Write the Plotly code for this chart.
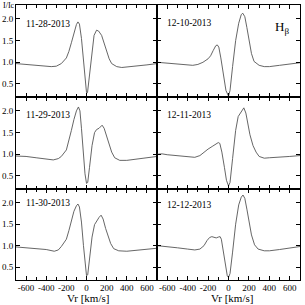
import plotly.graph_objects as go
from plotly.subplots import make_subplots

# ---- data ----
dates = ["11-28-2013", "12-10-2013", "11-29-2013", "12-11-2013", "11-30-2013", "12-12-2013"]

v_1128 = [-700, -600, -500, -400, -350, -300, -250, -200, -175, -150, -125, -100, -85, -70, -50, -30, -15, 0, 10, 25, 50, 75, 100, 120, 150, 175, 200, 225, 250, 300, 350, 400, 500, 600, 700]
i_1128 = [0.97, 0.95, 0.93, 0.91, 0.90, 0.91, 0.97, 1.10, 1.25, 1.45, 1.68, 1.87, 1.93, 1.88, 1.55, 1.05, 0.60, 0.30, 0.30, 0.60, 1.25, 1.62, 1.74, 1.72, 1.62, 1.45, 1.25, 1.08, 0.97, 0.90, 0.88, 0.89, 0.92, 0.94, 0.97]

v_1210 = [-700, -600, -500, -400, -350, -300, -250, -200, -175, -150, -125, -110, -95, -75, -50, -25, 0, 15, 40, 70, 100, 125, 140, 160, 180, 200, 225, 250, 300, 350, 400, 500, 600, 700]
i_1210 = [1.00, 0.98, 0.96, 0.94, 0.93, 0.95, 1.00, 1.08, 1.15, 1.27, 1.38, 1.40, 1.35, 1.10, 0.70, 0.35, 0.22, 0.35, 0.90, 1.50, 1.90, 2.10, 2.13, 2.05, 1.80, 1.50, 1.20, 1.02, 0.93, 0.90, 0.90, 0.93, 0.96, 0.99]

v_1129 = [-700, -600, -500, -400, -330, -280, -250, -200, -175, -150, -125, -100, -80, -65, -50, -30, -15, 0, 12, 30, 55, 80, 100, 125, 155, 175, 200, 225, 250, 280, 330, 400, 500, 600, 700]
i_1129 = [0.96, 0.95, 0.92, 0.89, 0.87, 0.90, 0.95, 1.10, 1.30, 1.55, 1.80, 2.00, 2.09, 2.00, 1.60, 1.00, 0.55, 0.33, 0.35, 0.70, 1.20, 1.50, 1.57, 1.60, 1.67, 1.60, 1.40, 1.20, 1.05, 0.92, 0.86, 0.86, 0.89, 0.92, 0.95]

v_1211 = [-700, -650, -600, -500, -400, -330, -280, -230, -200, -160, -125, -100, -85, -65, -40, -20, 0, 15, 40, 70, 95, 120, 150, 170, 190, 210, 240, 270, 300, 350, 400, 500, 600, 700]
i_1211 = [1.00, 1.01, 0.99, 0.97, 0.94, 0.93, 0.97, 1.07, 1.12, 1.18, 1.24, 1.27, 1.25, 1.05, 0.70, 0.40, 0.27, 0.35, 0.90, 1.55, 1.87, 1.95, 2.07, 1.95, 1.70, 1.45, 1.20, 1.05, 0.95, 0.91, 0.92, 0.93, 0.95, 0.97]

v_1130 = [-700, -600, -500, -400, -320, -280, -250, -200, -175, -150, -125, -100, -85, -70, -50, -30, -15, 0, 12, 30, 55, 80, 100, 125, 145, 165, 190, 215, 240, 270, 320, 400, 500, 600, 700]
i_1130 = [0.97, 0.95, 0.93, 0.91, 0.87, 0.90, 0.98, 1.15, 1.35, 1.58, 1.80, 1.93, 1.97, 1.90, 1.55, 1.00, 0.55, 0.30, 0.32, 0.65, 1.20, 1.49, 1.58, 1.66, 1.71, 1.62, 1.40, 1.20, 1.05, 0.93, 0.88, 0.87, 0.89, 0.92, 0.94]

v_1212 = [-700, -600, -500, -400, -330, -280, -240, -210, -185, -163, -140, -120, -100, -82, -70, -50, -30, -12, 0, 15, 40, 70, 100, 125, 142, 160, 180, 200, 225, 255, 290, 350, 400, 500, 600, 700]
i_1212 = [1.00, 0.98, 0.95, 0.92, 0.90, 0.92, 1.00, 1.12, 1.19, 1.21, 1.19, 1.18, 1.20, 1.21, 1.15, 0.85, 0.50, 0.30, 0.26, 0.35, 0.85, 1.50, 1.95, 2.13, 2.18, 2.10, 1.85, 1.55, 1.25, 1.02, 0.92, 0.88, 0.88, 0.91, 0.95, 0.98]

profiles = [(v_1128, i_1128), (v_1210, i_1210), (v_1129, i_1129),
            (v_1211, i_1211), (v_1130, i_1130), (v_1212, i_1212)]

x_ticks = [-600, -400, -200, 0, 200, 400, 600]
x_labels = ["-600", "-400", "-200", "0", "200", "400", "600"]
y_ticks = [0.5, 1.0, 1.5, 2.0]
y_labels = ["0.5", "1.0", "1.5", "2.0"]

W = H = 305
FONT = "Liberation Serif"

fig = make_subplots(rows=3, cols=2, horizontal_spacing=0, vertical_spacing=0)

for k, (vv, ii) in enumerate(profiles):
    r, c = k // 2 + 1, k % 2 + 1
    fig.add_trace(go.Scatter(x=vv, y=ii, mode="lines",
                             line=dict(color="#555555", width=0.9),
                             showlegend=False, hoverinfo="skip"), row=r, col=c)

# domains in pixels
xdom = [(16, 157), (157, 300)]
ydom = [(5, 97), (97, 189), (189, 280)]

def px_x(p):
    return p / W

def px_y(p):
    return 1 - p / H

for k in range(6):
    r, c = k // 2, k % 2
    idx = k + 1
    xa = "xaxis" if idx == 1 else f"xaxis{idx}"
    ya = "yaxis" if idx == 1 else f"yaxis{idx}"
    x0, x1 = xdom[c]
    y0, y1 = ydom[r]
    fig.layout[xa].update(
        domain=[px_x(x0), px_x(x1)], range=[-700, 700],
        tickvals=x_ticks, ticktext=x_labels, tickangle=0,
        showticklabels=(r == 2), ticklabelstandoff=-1,
        ticks="inside", ticklen=4, tickcolor="black",
        minor=dict(dtick=100, tick0=0, ticks="inside", ticklen=3, tickcolor="black"),
        showline=True, linecolor="black", linewidth=1, mirror="ticks",
        showgrid=False, zeroline=False,
        tickfont=dict(family=FONT, size=9, color="black"),
    )
    fig.layout[ya].update(
        domain=[px_y(y1), px_y(y0)], range=[0.2, 2.32],
        tickvals=y_ticks, ticktext=y_labels,
        showticklabels=(c == 0),
        ticks="inside", ticklen=4, tickcolor="black",
        showline=True, linecolor="black", linewidth=1, mirror="ticks",
        showgrid=False, zeroline=False,
        tickfont=dict(family=FONT, size=9, color="black"),
    )

# date labels
label_pos = [(24, 24), (165, 23), (24, 115), (165, 115), (24, 203), (165, 205)]
for d, (lx, ly) in zip(dates, label_pos):
    fig.add_annotation(text=d, xref="paper", yref="paper",
                       x=px_x(lx), y=px_y(ly), xanchor="left", yanchor="middle",
                       showarrow=False, font=dict(family=FONT, size=9.5, color="black"))

fig.add_annotation(text="H<sub>β</sub>", xref="paper", yref="paper",
                   x=px_x(273), y=px_y(27), xanchor="left", yanchor="middle",
                   showarrow=False, font=dict(family=FONT, size=13, color="black"))
fig.add_annotation(text="I/Ic", xref="paper", yref="paper",
                   x=px_x(1), y=px_y(5), xanchor="left", yanchor="middle",
                   showarrow=False, font=dict(family=FONT, size=8, color="black"))
for cx in (88, 232):
    fig.add_annotation(text="Vr [km/s]", xref="paper", yref="paper",
                       x=px_x(cx), y=px_y(298), xanchor="center", yanchor="middle",
                       showarrow=False, font=dict(family=FONT, size=11, color="black"))

fig.update_layout(width=W, height=H, margin=dict(l=0, r=0, t=0, b=0),
                  paper_bgcolor="white", plot_bgcolor="white")

fig.write_html("out.html", config={"displayModeBar": False},
               post_script="document.body.style.margin='0';document.body.style.padding='0';")
